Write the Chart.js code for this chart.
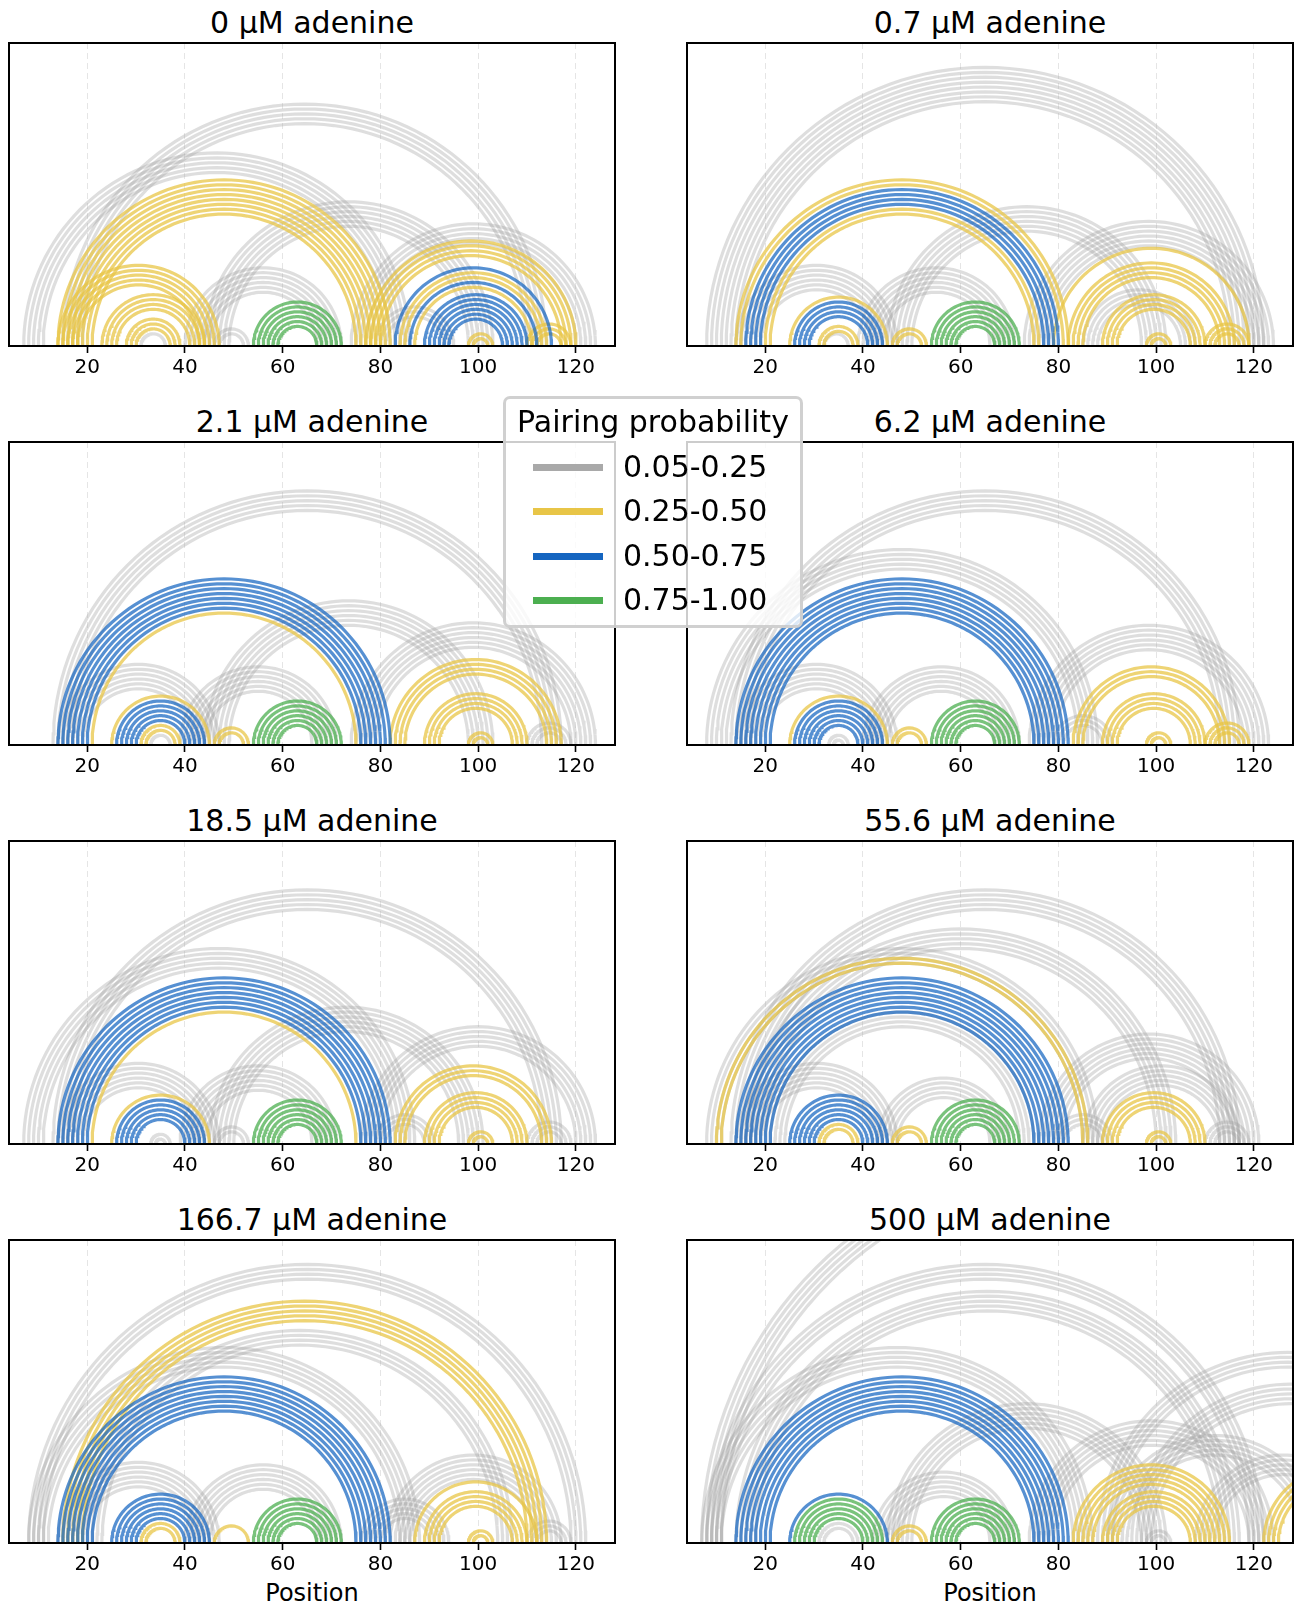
<!DOCTYPE html>
<html lang="en">
<head>
<meta charset="UTF-8">
<title>Pairing probability arcs</title>
<script src="https://cdn.jsdelivr.net/npm/chart.js"></script>
<style>
  body { margin: 0; width: 1294px; height: 1607px; position: relative; overflow: hidden; background: #fff; font-family: "DejaVu Sans", sans-serif; }
  canvas { position: absolute; }
  .title { position: absolute; width: 606px; text-align: center; font-size: 30px; line-height: 34px; color: #000; }
  .xlabel { position: absolute; width: 606px; text-align: center; font-size: 24px; line-height: 30px; color: #000; }
  #legend { position: absolute; left: 503px; top: 396px; width: 294px; height: 226px; border: 3px solid rgba(200,200,200,0.85); border-radius: 7px; background: rgba(255,255,255,0.8); z-index: 5; }
  #legend .ltitle { position: absolute; left: 0; width: 100%; top: 5px; text-align: center; font-size: 30px; line-height: 36px; }
  #legend .row { position: absolute; left: 0; height: 36px; line-height: 36px; font-size: 30px; }
  #legend .swatch { position: absolute; left: 27px; width: 70px; height: 7px; top: 15px; }
  #legend .ltext { position: absolute; left: 117px; top: 0; white-space: nowrap; }
</style>
</head>
<body>
<div id="legend"></div>
<script>
// panel titles and axis ticks
const panelTitles = ['0 µM adenine', '0.7 µM adenine', '2.1 µM adenine', '6.2 µM adenine',
                     '18.5 µM adenine', '55.6 µM adenine', '166.7 µM adenine', '500 µM adenine'];
const tickValues = [20, 40, 60, 80, 100, 120];
const probBins = ['0.05-0.25', '0.25-0.50', '0.50-0.75', '0.75-1.00'];
const binColors = ['#a9a9a9', '#e8c547', '#1565c0', '#4caf50'];
const arcColors = ['rgba(160,160,160,0.35)', 'rgba(232,197,71,0.75)', 'rgba(21,101,192,0.72)', 'rgba(76,175,80,0.75)'];

// stems: [first base, partner base, stem length, probability bin]
const stems0 = [
  [15, 114, 5, 0], [7, 86, 5, 0], [44, 103, 6, 0], [74, 124, 5, 0], [40, 72, 6, 0],
  [46, 53, 2, 0], [31, 36, 1, 0], [79, 95, 3, 0],
  [14, 82, 8, 1], [14, 47, 5, 1], [23, 44, 4, 1], [28, 39, 3, 1],
  [77, 120, 4, 1], [83, 115, 1, 2], [84, 114, 2, 1], [86, 112, 1, 2], [87, 111, 1, 1],
  [89, 110, 6, 2], [98, 103, 2, 1], [110, 119, 3, 1],
  [54, 72, 6, 3]
];
const stems07 = [
  [8, 122, 3, 0], [11, 119, 5, 0], [45, 102, 6, 0], [73, 124, 6, 0], [14, 47, 6, 0],
  [39, 71, 6, 0], [85, 108, 4, 0], [32, 37, 1, 0],
  [14, 82, 2, 1], [16, 80, 4, 2], [20, 76, 2, 1],
  [25, 45, 1, 1], [26, 44, 4, 2], [31, 39, 2, 1], [46, 53, 2, 1],
  [79, 119, 1, 1], [82, 116, 4, 1], [89, 110, 4, 1], [98, 103, 2, 1], [110, 119, 3, 1],
  [54, 72, 6, 3]
];
const stems21 = [
  [13, 117, 5, 0], [14, 47, 6, 0], [39, 71, 6, 0], [44, 103, 6, 0], [74, 124, 6, 0],
  [110, 119, 3, 0], [33, 37, 1, 0],
  [14, 82, 7, 2], [21, 75, 1, 1],
  [25, 45, 1, 1], [26, 44, 5, 2], [31, 39, 2, 1], [46, 53, 2, 1],
  [82, 117, 4, 1], [89, 110, 4, 1], [98, 103, 2, 1],
  [54, 72, 6, 3]
];
const stems62 = [
  [13, 117, 5, 0], [8, 88, 5, 0], [14, 47, 6, 0], [40, 72, 6, 0], [74, 123, 6, 0],
  [33, 37, 2, 0], [79, 91, 3, 0],
  [14, 82, 8, 2],
  [25, 45, 1, 1], [26, 44, 6, 2], [46, 53, 2, 1],
  [83, 115, 3, 1], [89, 110, 4, 1], [98, 103, 2, 1], [110, 119, 3, 1],
  [54, 72, 6, 3]
];
const stems185 = [
  [13, 117, 5, 0], [7, 87, 5, 0], [14, 47, 6, 0], [39, 71, 6, 0], [45, 101, 6, 0],
  [76, 124, 5, 0], [46, 53, 2, 0], [33, 37, 2, 0], [110, 119, 3, 0], [79, 91, 3, 0],
  [14, 82, 7, 2], [21, 75, 1, 1],
  [25, 45, 1, 1], [26, 44, 5, 2],
  [83, 115, 3, 1], [89, 110, 4, 1], [98, 103, 2, 1],
  [54, 72, 6, 3]
];
const stems556 = [
  [13, 117, 5, 0], [16, 104, 5, 0], [8, 88, 4, 0], [14, 47, 6, 0], [21, 75, 4, 0],
  [43, 70, 5, 0], [76, 121, 6, 0], [85, 117, 5, 0], [79, 91, 3, 0], [110, 119, 3, 0],
  [10, 86, 2, 1],
  [14, 82, 8, 2],
  [25, 45, 6, 2], [31, 39, 2, 1], [46, 53, 2, 1],
  [89, 110, 4, 1], [98, 103, 2, 1],
  [54, 72, 6, 3]
];
const stems1667 = [
  [8, 122, 4, 0], [20, 107, 4, 0], [8, 88, 5, 0], [14, 47, 6, 0], [40, 72, 6, 0],
  [81, 117, 6, 0], [76, 94, 5, 0], [110, 119, 3, 0],
  [15, 114, 5, 1],
  [14, 82, 8, 2],
  [25, 45, 6, 2], [31, 39, 2, 1], [46, 53, 1, 1],
  [87, 112, 1, 1], [89, 110, 4, 1], [98, 103, 2, 1],
  [54, 72, 6, 3]
];
const stems500 = [
  [7, 166, 5, 0], [8, 122, 4, 0], [14, 117, 5, 0], [7, 87, 5, 0], [45, 102, 6, 0],
  [42, 71, 6, 0], [74, 124, 6, 0], [88, 166, 4, 0], [95, 160, 5, 0], [108, 144, 5, 0],
  [90, 134, 5, 0], [98, 103, 2, 0], [31, 39, 2, 0],
  [14, 82, 8, 2],
  [25, 45, 1, 2], [26, 44, 5, 3], [46, 53, 2, 1],
  [83, 115, 5, 1], [89, 110, 4, 1], [122, 153, 4, 1],
  [54, 72, 6, 3]
];
const panelStems = [stems0, stems07, stems21, stems62, stems185, stems556, stems1667, stems500];

const plotLefts = [9, 687];
const plotTops = [43, 442, 841, 1240];
const plotW = 606, plotH = 303, pad = 6, axisH = 40;

// semicircle through the scales (equal aspect: y range is half the x range)
function arcData(i, j) {
  const c = (i + j) / 2, r = (j - i) / 2, pts = [];
  for (let s = 0; s <= 72; s++) {
    const t = Math.PI * s / 72;
    pts.push({ x: c - r * Math.cos(t), y: r * Math.sin(t) });
  }
  return pts;
}

const framePlugin = {
  id: 'frame',
  afterDraw(chart) {
    const a = chart.chartArea, ctx = chart.ctx;
    ctx.save();
    ctx.strokeStyle = '#000';
    ctx.lineWidth = 2;
    ctx.strokeRect(a.left, a.top, a.right - a.left, a.bottom - a.top);
    ctx.restore();
  }
};

panelStems.forEach((stems, p) => {
  const col = p % 2, row = Math.floor(p / 2);
  const left = plotLefts[col], top = plotTops[row];

  const t = document.createElement('div');
  t.className = 'title';
  t.textContent = panelTitles[p];
  t.style.left = left + 'px';
  t.style.top = (top - 37) + 'px';
  document.body.appendChild(t);

  if (row === 3) {
    const xl = document.createElement('div');
    xl.className = 'xlabel';
    xl.textContent = 'Position';
    xl.style.left = left + 'px';
    xl.style.top = '1578px';
    document.body.appendChild(xl);
  }

  const cv = document.createElement('canvas');
  cv.width = plotW + 2 * pad;
  cv.height = plotH + pad + axisH;
  cv.style.left = (left - pad) + 'px';
  cv.style.top = (top - pad) + 'px';
  document.body.appendChild(cv);

  const datasets = [];
  stems.forEach(([i, j, n, bin]) => {
    for (let k = 0; k < n; k++) {
      datasets.push({
        data: arcData(i + k, j - k),
        showLine: true,
        borderColor: arcColors[bin],
        borderWidth: 3.2,
        pointRadius: 0,
        fill: false,
        order: 3 - bin
      });
    }
  });

  new Chart(cv, {
    type: 'scatter',
    data: { datasets },
    options: {
      responsive: false,
      animation: false,
      events: [],
      layout: { padding: { left: pad, right: pad, top: pad, bottom: 0 } },
      plugins: { legend: { display: false }, tooltip: { enabled: false } },
      scales: {
        x: {
          type: 'linear', min: 4, max: 128,
          afterBuildTicks: (scale) => { scale.ticks = tickValues.map(v => ({ value: v })); },
          afterFit: (scale) => { scale.height = axisH; },
          grid: { color: 'rgba(0,0,0,0.1)', lineWidth: 1, tickLength: 7, tickColor: '#000', tickWidth: 1.6 },
          border: { display: false, dash: [6, 4] },
          ticks: { color: '#000', padding: 3, font: { family: 'DejaVu Sans', size: 20 } }
        },
        y: { type: 'linear', min: 0, max: 62, display: false }
      }
    },
    plugins: [framePlugin]
  });
});

// figure legend
const legend = document.getElementById('legend');
legend.innerHTML = '<div class="ltitle">Pairing probability</div>';
probBins.forEach((lab, b) => {
  const r = document.createElement('div');
  r.className = 'row';
  r.style.top = (50 + b * 44.3) + 'px';
  r.style.width = '100%';
  r.innerHTML = '<div class="swatch" style="background:' + binColors[b] + '"></div><div class="ltext">' + lab + '</div>';
  legend.appendChild(r);
});
</script>
</body>
</html>
